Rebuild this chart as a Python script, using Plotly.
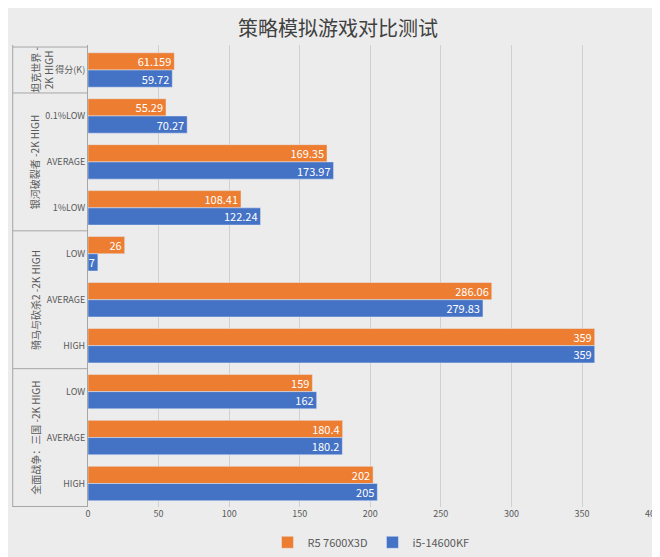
import plotly.graph_objects as go

groups = ["坦克世界 -<br>2K HIGH", "银河破裂者 -2K HIGH", "骑马与砍杀2 -2K HIGH", "全面战争：三国 -2K HIGH"]
group_sizes = [1, 3, 3, 3]
labels = ["得分(K)", "0.1%LOW", "AVERAGE", "1%LOW", "LOW", "AVERAGE", "HIGH", "LOW", "AVERAGE", "HIGH"]
r5 = [61.159, 55.29, 169.35, 108.41, 26, 286.06, 359, 159, 180.4, 202]
i5 = [59.72, 70.27, 173.97, 122.24, 7, 279.83, 359, 162, 180.2, 205]
ypos = list(range(len(labels)))

fig = go.Figure()
fig.add_bar(y=ypos, x=r5, orientation="h", name="R5 7600X3D", marker_color="#ED7D31",
            text=[str(v) for v in r5], textposition="inside", insidetextanchor="end", textangle=0,
            constraintext="none", textfont=dict(color="white", size=11))
fig.add_bar(y=ypos, x=i5, orientation="h", name="i5-14600KF", marker_color="#4472C4",
            text=[str(v) for v in i5], textposition="inside", insidetextanchor="end", textangle=0,
            constraintext="none", textfont=dict(color="white", size=11))

# group separators and rotated group titles
start = 0
for g, n in zip(groups, group_sizes):
    mid = start + (n - 1) / 2
    fig.add_annotation(x=-0.11, xref="paper", y=mid, yref="y", text=g, textangle=-90,
                       showarrow=False, font=dict(size=10, color="#595959"))
    fig.add_shape(type="line", xref="paper", yref="y", x0=-0.133, x1=0, y0=start - 0.5, y1=start - 0.5,
                  line=dict(color="#a6a6a6", width=1))
    start += n
fig.add_shape(type="line", xref="paper", yref="y", x0=-0.133, x1=0, y0=start - 0.5, y1=start - 0.5,
              line=dict(color="#a6a6a6", width=1))
fig.add_shape(type="line", xref="paper", yref="paper", x0=-0.133, x1=-0.133, y0=0, y1=1,
              line=dict(color="#a6a6a6", width=1))

fig.update_layout(
    width=660, height=557,
    title=dict(text="策略模拟游戏对比测试", x=0.5, y=0.975, font=dict(size=20, color="#404040")),
    font=dict(family="Noto Sans CJK SC", color="#595959"),
    barmode="group", bargap=0.25, bargroupgap=0.0,
    paper_bgcolor="#ececec", plot_bgcolor="#ececec",
    margin=dict(l=80, r=8, t=37, b=40),
    legend=dict(orientation="h", x=0.5, xanchor="center", y=-0.045, yanchor="top", font=dict(size=11)),
    xaxis=dict(range=[0, 401], dtick=50, gridcolor="#d0d0d0", tickfont=dict(size=9), zeroline=False,
               showline=False),
    yaxis=dict(tickvals=ypos, ticktext=labels, autorange="reversed", tickfont=dict(size=9),
               showline=True, linecolor="#a6a6a6", ticks=""),
)
fig.write_html("out.html")
